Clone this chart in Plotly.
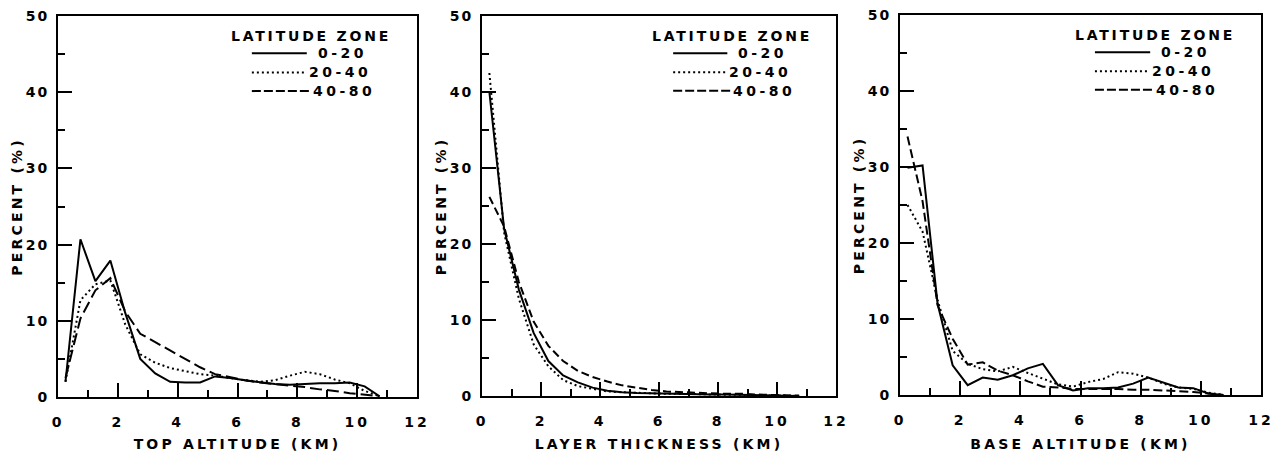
import plotly.graph_objects as go

# Altitude / thickness bins (km, bin centres)
BIN_KM = [0.25, 0.75, 1.25, 1.75, 2.25, 2.75, 3.25, 3.75, 4.25, 4.75, 5.25,
          5.75, 6.25, 6.75, 7.25, 7.75, 8.25, 8.75, 9.25, 9.75, 10.25, 10.75]

ZONES = ["0-20", "20-40", "40-80"]

# Cloud-top altitude distribution (%)
TOP_0_20 = [2.0, 20.7, 15.2, 17.9, 11.0, 5.0, 3.1, 2.0, 1.9, 1.9, 2.7,
            2.5, 2.2, 1.9, 1.7, 1.6, 1.7, 1.8, 1.8, 1.9, 1.4, 0.1]
TOP_20_40 = [2.0, 12.7, 14.8, 15.3, 9.5, 5.6, 4.5, 3.8, 3.4, 3.0, 2.8,
             2.5, 2.2, 2.0, 2.2, 2.8, 3.3, 3.0, 2.3, 1.8, 0.8, 0.1]
TOP_40_80 = [2.5, 10.3, 14.0, 15.6, 11.2, 8.3, 7.2, 6.1, 5.0, 3.9, 3.0,
             2.6, 2.2, 1.9, 1.7, 1.5, 1.3, 1.0, 0.8, 0.5, 0.3, 0.1]

# Cloud layer thickness distribution (%)
THICK_0_20 = [40.0, 22.0, 14.0, 8.3, 4.6, 2.7, 1.8, 1.1, 0.7, 0.5, 0.4,
              0.35, 0.3, 0.25, 0.2, 0.2, 0.2, 0.15, 0.1, 0.1, 0.05, 0.0]
THICK_20_40 = [42.5, 21.5, 12.8, 6.8, 3.9, 2.1, 1.3, 0.9, 0.6, 0.5, 0.4,
               0.35, 0.3, 0.3, 0.25, 0.2, 0.2, 0.15, 0.1, 0.1, 0.05, 0.0]
THICK_40_80 = [26.2, 22.3, 15.0, 9.8, 6.6, 4.6, 3.3, 2.5, 1.9, 1.4, 1.1,
               0.8, 0.6, 0.5, 0.4, 0.35, 0.3, 0.3, 0.2, 0.15, 0.1, 0.05]

# Cloud-base altitude distribution (%)
BASE_0_20 = [29.9, 30.2, 12.0, 3.9, 1.3, 2.3, 2.0, 2.6, 3.5, 4.1, 1.3,
             0.6, 0.9, 0.9, 1.0, 1.5, 2.3, 1.7, 1.0, 0.9, 0.2, 0.0]
BASE_20_40 = [25.0, 21.5, 12.5, 5.8, 4.1, 3.4, 3.1, 3.7, 2.9, 2.1, 1.4,
              1.1, 1.7, 2.1, 3.0, 2.8, 2.3, 1.5, 1.0, 0.8, 0.3, 0.0]
BASE_40_80 = [34.0, 25.5, 11.8, 7.4, 4.0, 4.3, 3.2, 2.6, 1.8, 1.1, 1.0,
              0.8, 0.8, 0.8, 0.8, 0.7, 0.7, 0.6, 0.5, 0.4, 0.2, 0.0]

PANEL_SERIES = [
    [TOP_0_20, TOP_20_40, TOP_40_80],
    [THICK_0_20, THICK_20_40, THICK_40_80],
    [BASE_0_20, BASE_20_40, BASE_40_80],
]
X_TITLES = ["TOP ALTITUDE (KM)", "LAYER THICKNESS (KM)", "BASE ALTITUDE (KM)"]
Y_TITLE = "PERCENT (%)"
LEGEND_TITLE = "LATITUDE ZONE"

X_TICKS = [0, 2, 4, 6, 8, 10, 12]
X_MINOR = [1, 3, 5, 7, 9, 11]
Y_TICKS = [0, 10, 20, 30, 40, 50]
Y_MINOR = [5, 15, 25, 35, 45]

# ---- styling ----
W, H = 1279, 452
X_DOMAINS = [(58 / W, 417 / W), (482 / W, 836 / W), (900 / W, 1261 / W)]
Y_DOMAINS = [(1 - 397 / H, 1 - 16 / H), (1 - 396 / H, 1 - 16 / H), (1 - 395 / H, 1 - 15 / H)]
DASHES = [
    ["solid", "2px,3px", "12px,5px"],
    ["solid", "2px,3px", "8px,4px"],
    ["solid", "2px,3px", "9px,4px"],
]
# legend key: dash style, key end (domain x), label start (domain x), row (domain y)
LEGEND_DASHES = ["solid", "2px,3px", "9px,3px"]
KEY_X0 = 0.540
KEY_X1 = [0.693, 0.687, 0.702]
LABEL_X = [0.718, 0.693, 0.704]
ROW_Y = [0.902, 0.852, 0.803]
FONT = dict(family="DejaVu Sans", size=14, color="black", weight="bold")


def spaced(s, px=3):
    return f'<span style="letter-spacing:{px}px">{s}</span>'


fig = go.Figure()

for i, series in enumerate(PANEL_SERIES):
    n = "" if i == 0 else str(i + 1)
    for vals, dash in zip(series, DASHES[i]):
        fig.add_trace(go.Scatter(
            x=BIN_KM, y=vals, mode="lines",
            line=dict(color="black", width=2, dash=dash),
            showlegend=False, hoverinfo="skip",
            xaxis="x" + n, yaxis="y" + n,
        ))

    axis_common = dict(
        showline=True, linecolor="black", linewidth=2, mirror=True,
        showgrid=False, zeroline=False, automargin=False,
        ticks="inside", ticklen=14, tickwidth=2, tickcolor="black",
        tickfont=FONT, tickmode="array",
    )
    fig.layout["xaxis" + n] = dict(
        axis_common, domain=X_DOMAINS[i], range=[0, 12], anchor="y" + n,
        tickvals=X_TICKS, ticktext=[spaced(str(v)) for v in X_TICKS],
        minor=dict(ticks="inside", ticklen=7, tickwidth=2, tickcolor="black",
                   tickmode="array", tickvals=X_MINOR),
        ticklabelstandoff=11,
        title=dict(text=spaced(X_TITLES[i], 3.2), font=FONT, standoff=13),
    )
    fig.layout["yaxis" + n] = dict(
        axis_common, domain=Y_DOMAINS[i], range=[0, 50], anchor="x" + n,
        tickvals=Y_TICKS, ticktext=[spaced(str(v), 2) for v in Y_TICKS],
        minor=dict(ticks="inside", ticklen=7, tickwidth=2, tickcolor="black",
                   tickmode="array", tickvals=Y_MINOR),
        ticklabelstandoff=4,
        title=dict(text=spaced(Y_TITLE, 3.2), font=FONT, standoff=0),
    )

    xd, yd = "x" + n + " domain", "y" + n + " domain"
    fig.add_annotation(
        xref=xd, yref=yd, x=0.706, y=0.9475, text=spaced(LEGEND_TITLE, 2.8),
        showarrow=False, xanchor="center", yanchor="middle", font=FONT,
    )
    for zone, dash, ly, kx1, lx in zip(ZONES, LEGEND_DASHES, ROW_Y, KEY_X1, LABEL_X):
        fig.add_shape(
            type="line", xref=xd, yref=yd, x0=KEY_X0, x1=kx1, y0=ly, y1=ly,
            line=dict(color="black", width=2, dash=dash),
        )
        fig.add_annotation(
            xref=xd, yref=yd, x=lx, y=ly, text=spaced(zone, 3.5),
            showarrow=False, xanchor="left", yanchor="middle", font=FONT,
        )

fig.update_layout(
    width=W, height=H, autosize=False,
    margin=dict(l=0, r=0, t=0, b=0),
    paper_bgcolor="white", plot_bgcolor="white",
    font=FONT,
)

fig.write_html("out.html")
